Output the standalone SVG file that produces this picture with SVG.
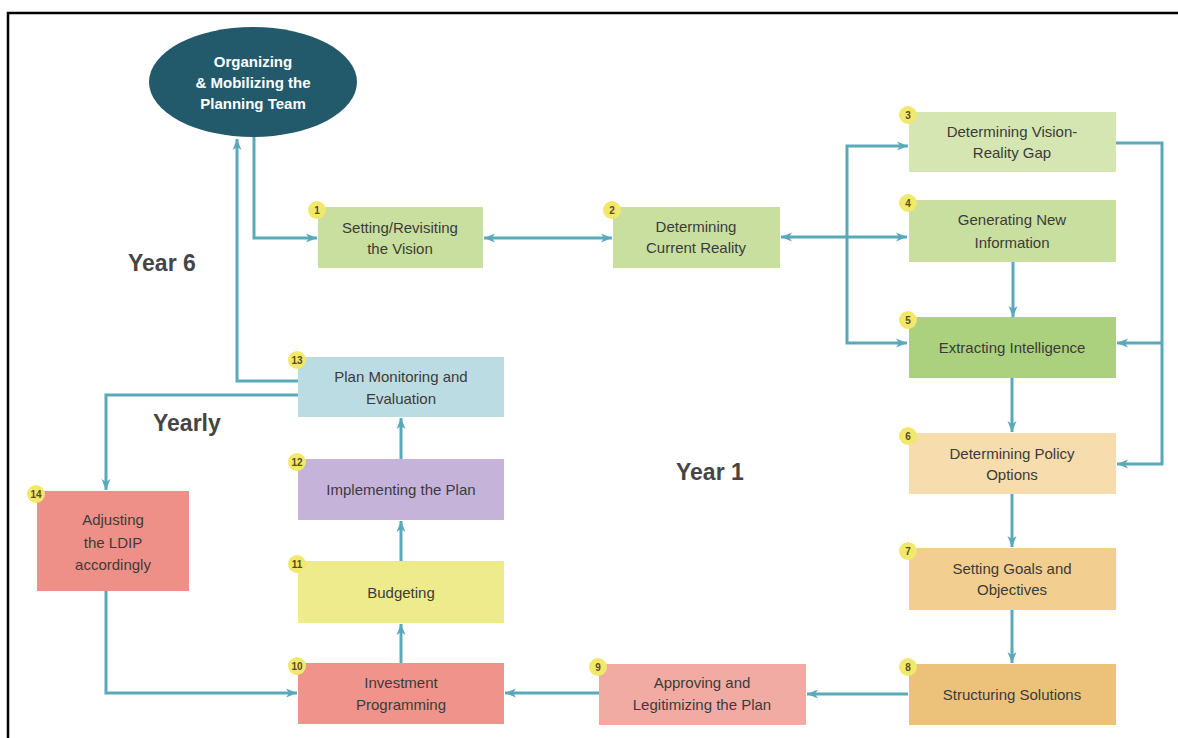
<svg xmlns="http://www.w3.org/2000/svg" width="1178" height="738" viewBox="0 0 1178 738">
<style>
.t{font-family:"Liberation Sans",Arial,sans-serif;font-size:15px;fill:#3b3b3b;text-anchor:middle}
.w{font-family:"Liberation Sans",Arial,sans-serif;font-size:15px;font-weight:bold;fill:#ffffff;text-anchor:middle}
.y{font-family:"Liberation Sans",Arial,sans-serif;font-size:23px;font-weight:bold;fill:#454545}
.b{fill:#f1e86c}
.n{font-family:"Liberation Sans",Arial,sans-serif;font-size:10px;font-weight:bold;fill:#5a4c1c;text-anchor:middle}
.c{fill:none;stroke:#5aa9bb;stroke-width:3}
</style>
<defs>
<marker id="ah" markerUnits="userSpaceOnUse" markerWidth="12" markerHeight="12" viewBox="0 0 12 12" refX="11" refY="6" orient="auto-start-reverse">
<path d="M0,1.5 L11,6 L0,10.5 L3,6 Z" fill="#5aa9bb"/>
</marker>
</defs>
<rect x="8" y="13" width="1190" height="760" fill="#ffffff" stroke="#000000" stroke-width="2.5"/>

<g id="connectors">
<path class="c" d="M254,137 V238 H317" marker-end="url(#ah)"/>
<path class="c" d="M298,381 H237 V139" marker-end="url(#ah)"/>
<path class="c" d="M484,238 H612" marker-start="url(#ah)" marker-end="url(#ah)"/>
<path class="c" d="M781,237 H907" marker-start="url(#ah)" marker-end="url(#ah)"/>
<path class="c" d="M908,146 H847 V343 H907" marker-start="url(#ah)" marker-end="url(#ah)"/>
<path class="c" d="M1013,262 V317" marker-end="url(#ah)"/>
<path class="c" d="M1116,143 H1162 V464 H1117" marker-end="url(#ah)"/>
<path class="c" d="M1162,343 H1117" marker-end="url(#ah)"/>
<path class="c" d="M1012,378 V432" marker-end="url(#ah)"/>
<path class="c" d="M1012,494 V547" marker-end="url(#ah)"/>
<path class="c" d="M1012,610 V663" marker-end="url(#ah)"/>
<path class="c" d="M908,694 H807" marker-end="url(#ah)"/>
<path class="c" d="M599,693 H505" marker-end="url(#ah)"/>
<path class="c" d="M401,663 V624" marker-end="url(#ah)"/>
<path class="c" d="M401,561 V521" marker-end="url(#ah)"/>
<path class="c" d="M401,459 V418" marker-end="url(#ah)"/>
<path class="c" d="M298,395 H106 V490" marker-end="url(#ah)"/>
<path class="c" d="M106,591 V693 H297" marker-end="url(#ah)"/>
</g>

<g id="node-start">
<ellipse cx="253" cy="82" rx="104" ry="55" fill="#235a6b"/>
<text class="w" x="253" y="67">Organizing</text>
<text class="w" x="253" y="88">&amp; Mobilizing the</text>
<text class="w" x="253" y="109">Planning Team</text>
</g>

<g id="node-1">
<rect x="318" y="207" width="165" height="61" fill="#c9df9f"/>
<text class="t" x="400" y="233">Setting/Revisiting</text>
<text class="t" x="400" y="254">the Vision</text>
<circle class="b" cx="317" cy="210" r="9"/><text class="n" x="317" y="214">1</text>
</g>

<g id="node-2">
<rect x="613" y="207" width="167" height="61" fill="#c9df9f"/>
<text class="t" x="696" y="232">Determining</text>
<text class="t" x="696" y="253">Current Reality</text>
<circle class="b" cx="612" cy="210" r="9"/><text class="n" x="612" y="214">2</text>
</g>

<g id="node-3">
<rect x="909" y="112" width="207" height="60" fill="#d5e6b2"/>
<text class="t" x="1012" y="137">Determining Vision-</text>
<text class="t" x="1012" y="158">Reality Gap</text>
<circle class="b" cx="908" cy="115" r="9"/><text class="n" x="908" y="119">3</text>
</g>

<g id="node-4">
<rect x="909" y="200" width="207" height="62" fill="#c9df9f"/>
<text class="t" x="1012" y="225">Generating New</text>
<text class="t" x="1012" y="248">Information</text>
<circle class="b" cx="908" cy="203" r="9"/><text class="n" x="908" y="207">4</text>
</g>

<g id="node-5">
<rect x="909" y="317" width="207" height="61" fill="#abd17e"/>
<text class="t" x="1012" y="353">Extracting Intelligence</text>
<circle class="b" cx="908" cy="320" r="9"/><text class="n" x="908" y="324">5</text>
</g>

<g id="node-6">
<rect x="909" y="433" width="207" height="61" fill="#f7dcae"/>
<text class="t" x="1012" y="459">Determining Policy</text>
<text class="t" x="1012" y="480">Options</text>
<circle class="b" cx="908" cy="436" r="9"/><text class="n" x="908" y="440">6</text>
</g>

<g id="node-7">
<rect x="909" y="548" width="207" height="62" fill="#f2cf90"/>
<text class="t" x="1012" y="574">Setting Goals and</text>
<text class="t" x="1012" y="595">Objectives</text>
<circle class="b" cx="908" cy="551" r="9"/><text class="n" x="908" y="555">7</text>
</g>

<g id="node-8">
<rect x="909" y="664" width="207" height="61" fill="#ecc27b"/>
<text class="t" x="1012" y="700">Structuring Solutions</text>
<circle class="b" cx="908" cy="667" r="9"/><text class="n" x="908" y="671">8</text>
</g>

<g id="node-9">
<rect x="599" y="664" width="207" height="61" fill="#f2aba3"/>
<text class="t" x="702" y="688">Approving and</text>
<text class="t" x="702" y="710">Legitimizing the Plan</text>
<circle class="b" cx="598" cy="667" r="9"/><text class="n" x="598" y="671">9</text>
</g>

<g id="node-10">
<rect x="298" y="663" width="206" height="61" fill="#ef938b"/>
<text class="t" x="401" y="688">Investment</text>
<text class="t" x="401" y="710">Programming</text>
<circle class="b" cx="297" cy="666" r="9"/><text class="n" x="297" y="670">10</text>
</g>

<g id="node-11">
<rect x="298" y="561" width="206" height="62" fill="#eeeb8c"/>
<text class="t" x="401" y="598">Budgeting</text>
<circle class="b" cx="297" cy="564" r="9"/><text class="n" x="297" y="568">11</text>
</g>

<g id="node-12">
<rect x="298" y="459" width="206" height="61" fill="#c5b3da"/>
<text class="t" x="401" y="495">Implementing the Plan</text>
<circle class="b" cx="297" cy="462" r="9"/><text class="n" x="297" y="466">12</text>
</g>

<g id="node-13">
<rect x="298" y="357" width="206" height="60" fill="#bcdce3"/>
<text class="t" x="401" y="382">Plan Monitoring and</text>
<text class="t" x="401" y="404">Evaluation</text>
<circle class="b" cx="297" cy="360" r="9"/><text class="n" x="297" y="364">13</text>
</g>

<g id="node-14">
<rect x="37" y="491" width="152" height="100" fill="#ef9088"/>
<text class="t" x="113" y="525">Adjusting</text>
<text class="t" x="113" y="548">the LDIP</text>
<text class="t" x="113" y="570">accordingly</text>
<circle class="b" cx="36" cy="494" r="9"/><text class="n" x="36" y="498">14</text>
</g>

<g id="labels">
<text class="y" x="128" y="271">Year 6</text>
<text class="y" x="153" y="431">Yearly</text>
<text class="y" x="676" y="480">Year 1</text>
</g>
</svg>
